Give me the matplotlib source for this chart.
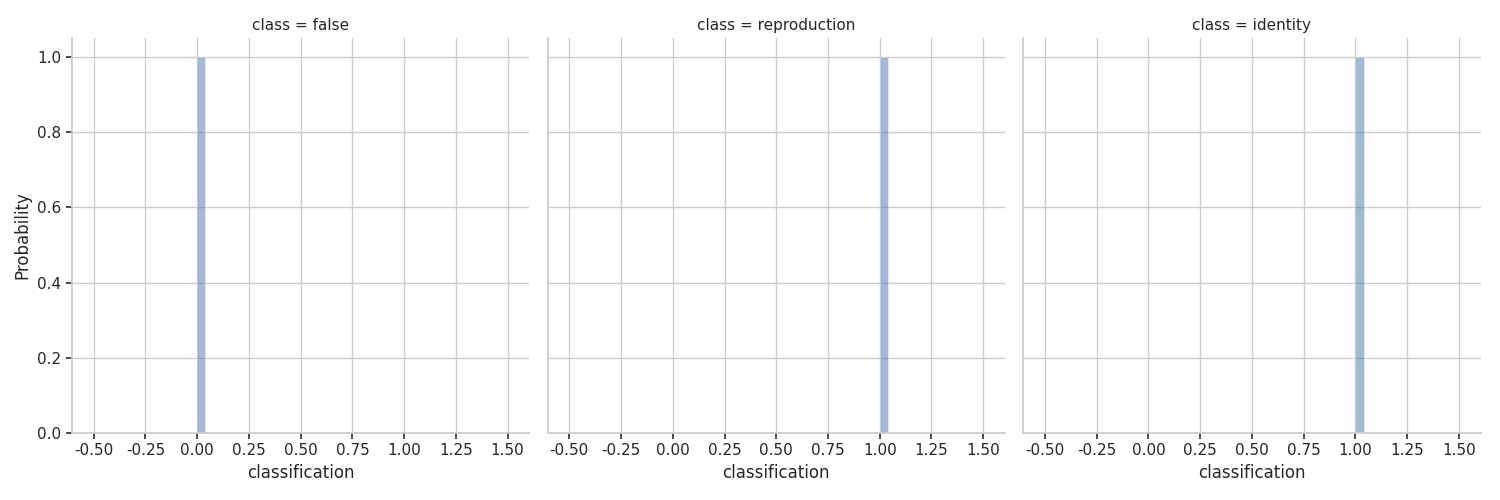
import matplotlib
matplotlib.use("Agg")
import matplotlib.pyplot as plt
import seaborn as sns

sns.set_theme(style="whitegrid")

classes = ["false", "reproduction", "identity"]
bar_left = [0.0, 1.0, 1.0]
bar_prob = [1.0, 1.0, 1.0]
bin_width = 0.04
xticks = [-0.5, -0.25, 0.0, 0.25, 0.5, 0.75, 1.0, 1.25, 1.5]

fig, axes = plt.subplots(1, 3, figsize=(15, 5), sharey=True)
fig.subplots_adjust(left=0.048, right=0.987, top=0.924, bottom=0.134, wspace=0.04)

for ax, cls, x0, p in zip(axes, classes, bar_left, bar_prob):
    ax.bar([x0], [p], width=bin_width, align="edge", color="#4c72b0", alpha=0.5,
           edgecolor="white", linewidth=0.5)
    ax.set_xlim(-0.605, 1.605)
    ax.set_ylim(0, 1.05)
    ax.set_xticks(xticks)
    ax.set_xticklabels([f"{t:.2f}" for t in xticks])
    ax.set_title(f"class = {cls}", fontsize=11)
    ax.set_xlabel("classification")
    for s in ["top", "right"]:
        ax.spines[s].set_visible(False)
    ax.tick_params(axis="both", length=4, color="#333333", bottom=True, left=True)

axes[0].set_ylabel("Probability")
for ax in axes[1:]:
    ax.tick_params(axis="y", left=False)

fig.savefig("out.png", dpi=100)
